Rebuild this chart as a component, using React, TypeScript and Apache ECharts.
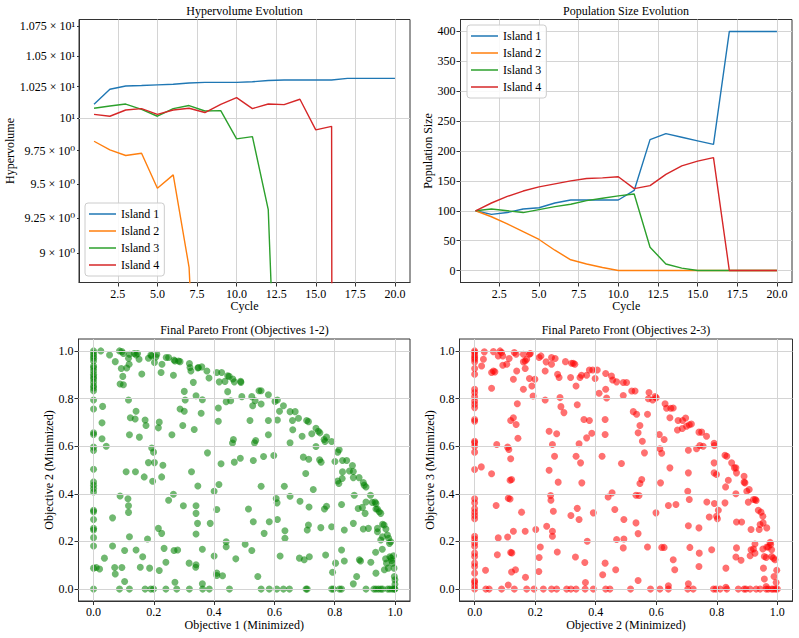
import React, { useEffect, useRef } from "react";
import * as echarts from "echarts";

// ---- data -----------------------------------------------------------------
const cycles = [1, 2, 3, 4, 5, 6, 7, 8, 9, 10, 11, 12, 13, 14, 15, 16, 17, 18, 19, 20];
const islandNames = ["Island 1", "Island 2", "Island 3", "Island 4"];
const islandColors = ["#1f77b4", "#ff7f0e", "#2ca02c", "#d62728"];

// hypervolume per island (0 = island extinct)
const hv1 = [10.11, 10.23, 10.256, 10.26, 10.265, 10.27, 10.28, 10.285, 10.285, 10.285, 10.29, 10.3, 10.304, 10.304, 10.304, 10.304, 10.317, 10.317, 10.317, 10.317];
const hv2 = [9.822, 9.756, 9.713, 9.73, 9.468, 9.567, 8.9, 6.9, 5.2, 0, 0, 0, 0, 0, 0, 0, 0, 0, 0, 0];
const hv3 = [10.079, 10.097, 10.112, 10.07, 10.016, 10.076, 10.1, 10.057, 10.06, 9.84, 9.858, 9.31, 6.7, 4.8, 0, 0, 0, 0, 0, 0];
const hv4 = [10.031, 10.016, 10.065, 10.076, 10.031, 10.065, 10.079, 10.045, 10.11, 10.163, 10.076, 10.112, 10.107, 10.15, 9.91, 9.937, 0, 0, 0, 0];

// population size per island
const pop1 = [100, 94, 97, 103, 105, 113, 118, 118, 118, 118, 134, 219, 229, 223, 217, 211, 400, 400, 400, 400];
const pop2 = [100, 90, 78, 65, 52, 34, 18, 11, 5, 0, 0, 0, 0, 0, 0, 0, 0, 0, 0, 0];
const pop3 = [100, 103, 100, 97, 102, 107, 111, 117, 121, 125, 128, 39, 11, 4, 0, 0, 0, 0, 0, 0];
const pop4 = [100, 113, 124, 133, 140, 145, 150, 154, 155, 157, 137, 142, 161, 175, 183, 189, 0, 0, 0, 0];

// tick labels
const cycleTicks = [2.5, 5, 7.5, 10, 12.5, 15, 17.5, 20];
const hvTickValues = [9, 9.25, 9.5, 9.75, 10, 10.25, 10.5, 10.75];
const hvTickLabels = ["9 × 10⁰", "9.25 × 10⁰", "9.5 × 10⁰", "9.75 × 10⁰", "10¹", "1.025 × 10¹", "1.05 × 10¹", "1.075 × 10¹"];
const hvMajorTicks = [10];
const popTicks = [0, 50, 100, 150, 200, 250, 300, 350, 400];
const unitTicks = [0, 0.2, 0.4, 0.6, 0.8, 1.0];

// final Pareto front, objective 1 vs objective 2
const front12: [number, number][] = [
  [0, 1.0], [0, 0.989], [0, 0.979], [0, 0.969], [0, 0.958], [0, 0.937], [0, 0.928], [0, 0.916], [0, 0.902], [0, 0.891],
  [0, 0.882], [0, 0.868], [0, 0.854], [0, 0.844], [0, 0.833], [0, 0.794], [0, 0.756], [0, 0.656], [0, 0.649], [0, 0.596],
  [0, 0.582], [0, 0.503], [0, 0.45], [0, 0.436], [0, 0.422], [0, 0.408], [0, 0.331], [0, 0.325], [0, 0.292], [0, 0.255],
  [0, 0.248], [0, 0.216], [0, 0.181], [0, 0.088], [0, 0],
  [0.024, 1.0], [0.053, 0.983], [0.072, 0.955], [0.086, 1.0], [0.094, 0.997], [0.099, 0.989], [0.092, 0.926], [0.097, 0.893],
  [0.088, 0.861], [0.099, 0.858], [0.11, 0.928], [0.118, 0.944], [0.119, 0.986], [0.116, 0.969], [0.135, 0.989], [0.141, 0.983],
  [0.146, 0.989], [0.151, 0.965], [0.16, 0.903], [0.182, 0.969], [0.19, 0.983], [0.193, 0.979], [0.202, 0.951], [0.207, 0.975],
  [0.21, 0.986], [0.227, 0.944], [0.224, 0.909], [0.241, 0.972], [0.249, 0.972], [0.267, 0.962], [0.27, 0.958], [0.282, 0.958],
  [0.287, 0.955], [0.265, 0.898], [0.318, 0.947], [0.32, 0.93], [0.323, 0.916], [0.331, 0.868], [0.346, 0.928], [0.348, 0.93],
  [0.359, 0.933], [0.376, 0.916], [0.383, 0.886], [0.409, 0.909], [0.425, 0.909], [0.417, 0.87], [0.436, 0.872], [0.445, 0.896],
  [0.45, 0.893], [0.462, 0.882], [0.467, 0.87], [0.488, 0.872], [0.489, 0.868],
  [0.03, 0.767], [0.116, 0.794], [0.34, 0.812], [0.361, 0.795], [0.445, 0.829], [0.44, 0.787], [0.455, 0.791], [0.492, 0.808],
  [0.525, 0.808], [0.528, 0.77], [0.536, 0.791], [0.549, 0.833], [0.556, 0.833], [0.556, 0.777], [0.58, 0.816], [0.602, 0.788],
  [0.61, 0.794], [0.63, 0.77], [0.301, 0.83], [0.304, 0.794], [0.287, 0.756], [0.301, 0.747],
  [0.028, 0.698], [0.028, 0.631], [0.042, 0.6], [0.122, 0.719], [0.138, 0.714], [0.141, 0.747], [0.119, 0.648], [0.152, 0.638],
  [0.171, 0.71], [0.174, 0.687], [0.218, 0.701], [0.215, 0.677], [0.296, 0.687], [0.26, 0.648], [0.334, 0.67], [0.357, 0.738],
  [0.414, 0.76], [0.414, 0.705], [0.464, 0.628], [0.461, 0.613], [0.519, 0.708], [0.538, 0.624], [0.534, 0.614], [0.58, 0.708],
  [0.58, 0.648], [0.61, 0.71], [0.617, 0.747], [0.652, 0.745], [0.669, 0.745], [0.66, 0.708], [0.661, 0.669], [0.652, 0.614],
  [0.68, 0.717], [0.692, 0.642], [0.707, 0.708], [0.713, 0.703], [0.724, 0.652], [0.738, 0.675], [0.746, 0.663], [0.751, 0.656],
  [0.738, 0.599], [0.765, 0.628], [0.768, 0.62], [0.773, 0.638], [0.79, 0.62],
  [0.193, 0.592], [0.199, 0.575], [0.182, 0.531], [0.202, 0.531], [0.23, 0.52], [0.108, 0.493], [0.139, 0.493], [0.168, 0.471],
  [0.196, 0.453], [0.226, 0.471], [0.378, 0.572], [0.346, 0.433], [0.325, 0.493], [0.4, 0.411], [0.416, 0.439], [0.423, 0.526],
  [0.467, 0.533], [0.487, 0.549], [0.53, 0.54], [0.564, 0.557], [0.598, 0.561], [0.556, 0.432], [0.606, 0.38], [0.609, 0.362],
  [0.633, 0.432], [0.696, 0.554], [0.714, 0.545], [0.704, 0.485], [0.729, 0.418], [0.75, 0.543], [0.755, 0.533], [0.801, 0.536],
  [0.81, 0.575], [0.815, 0.585], [0.81, 0.454], [0.814, 0.443], [0.826, 0.54], [0.84, 0.54], [0.826, 0.492], [0.825, 0.464],
  [0.849, 0.496], [0.862, 0.494], [0.859, 0.519], [0.862, 0.468], [0.881, 0.468], [0.895, 0.447], [0.898, 0.436], [0.904, 0.429],
  [0.865, 0.394],
  [0.088, 0.391], [0.114, 0.379], [0.116, 0.35], [0.116, 0.322], [0.063, 0.299], [0.119, 0.22], [0.215, 0.255], [0.226, 0.234],
  [0.249, 0.373], [0.265, 0.398], [0.298, 0.35], [0.34, 0.35], [0.34, 0.318], [0.345, 0.276], [0.34, 0.231], [0.387, 0.276],
  [0.409, 0.334], [0.44, 0.199], [0.44, 0.178], [0.514, 0.336], [0.53, 0.283], [0.566, 0.234], [0.583, 0.283], [0.61, 0.292],
  [0.635, 0.245], [0.635, 0.213], [0.652, 0.39], [0.685, 0.369], [0.715, 0.345], [0.713, 0.269], [0.709, 0.248], [0.754, 0.258],
  [0.766, 0.336], [0.773, 0.348], [0.79, 0.262], [0.823, 0.355], [0.832, 0.248], [0.862, 0.276], [0.878, 0.338], [0.892, 0.343],
  [0.901, 0.318], [0.904, 0.366], [0.895, 0.252], [0.912, 0.255], [0.919, 0.394], [0.925, 0.364], [0.934, 0.366], [0.937, 0.336],
  [0.942, 0.336], [0.948, 0.325], [0.953, 0.318], [0.937, 0.359], [0.942, 0.255], [0.942, 0.241], [0.959, 0.272], [0.964, 0.269],
  [0.97, 0.252], [0.975, 0.227], [0.979, 0.213], [0.986, 0.199], [0.982, 0.192], [0.953, 0.206], [0.959, 0.22],
  [0.009, 0.091], [0.02, 0.084], [0.036, 0.13], [0.063, 0.181], [0.07, 0.091], [0.072, 0.063], [0.094, 0.091], [0.103, 0.162],
  [0.103, 0.032], [0.141, 0.164], [0.155, 0.092], [0.163, 0.136], [0.179, 0.21], [0.186, 0.088], [0.218, 0.078], [0.234, 0.171],
  [0.24, 0.113], [0.267, 0.162], [0.279, 0.164], [0.27, 0.029], [0.317, 0.109], [0.34, 0.102], [0.339, 0.092], [0.361, 0.167],
  [0.361, 0.022], [0.4, 0.139], [0.409, 0.067], [0.409, 0.057], [0.428, 0.056], [0.472, 0.127], [0.503, 0.188], [0.525, 0.162],
  [0.545, 0.053], [0.619, 0.139], [0.683, 0.13], [0.699, 0.123], [0.716, 0.136], [0.77, 0.143], [0.793, 0.071], [0.803, 0.109],
  [0.823, 0.164], [0.832, 0.118], [0.862, 0.022], [0.873, 0.053], [0.882, 0.123], [0.886, 0.118], [0.92, 0.113], [0.936, 0.155],
  [0.937, 0.067], [0.958, 0.167], [0.969, 0.127], [0.972, 0.109], [0.978, 0.088], [0.983, 0.136], [0.987, 0.13], [0.989, 0.12],
  [0.992, 0.109], [0.997, 0.088], [0.998, 0.053], [1.0, 0.039], [0.965, 0.081], [0.995, 0.14], [1.0, 0.02],
  [0.086, 0], [0.119, 0], [0.171, 0], [0.19, 0], [0.199, 0], [0.24, 0], [0.276, 0], [0.318, 0], [0.362, 0], [0.384, 0],
  [0.451, 0], [0.556, 0], [0.583, 0], [0.608, 0], [0.63, 0], [0.65, 0], [0.705, 0], [0.709, 0], [0.79, 0], [0.796, 0],
  [0.816, 0], [0.823, 0], [0.904, 0], [0.93, 0], [0.937, 0], [0.945, 0], [0.953, 0], [0.959, 0], [0.976, 0], [0.983, 0],
  [0.991, 0], [0.998, 0], [1.0, 0],
];

// final Pareto front, objective 2 vs objective 3
const front23: [number, number][] = [
  [0, 1.0], [0, 0.993], [0, 0.982], [0, 0.972], [0, 0.965], [0, 0.954], [0, 0.926], [0, 0.902], [0, 0.839], [0, 0.825],
  [0, 0.808], [0, 0.79], [0, 0.776], [0, 0.762], [0, 0.712], [0, 0.705], [0, 0.621], [0, 0.614], [0, 0.6], [0, 0.575],
  [0, 0.502], [0, 0.379], [0, 0.362], [0, 0.337], [0, 0.323], [0, 0.309], [0, 0.295], [0, 0.222], [0, 0.21], [0, 0.194],
  [0, 0.18], [0, 0.151], [0, 0.137], [0, 0.109], [0, 0.095], [0, 0.067], [0, 0.035], [0, 0.028], [0, 0.014], [0, 0],
  [0.032, 0.996], [0.029, 0.965], [0.023, 0.937], [0.062, 0.997], [0.078, 0.979], [0.084, 1.0], [0.089, 0.993], [0.093, 0.979],
  [0.056, 0.909], [0.062, 0.916], [0.067, 0.912], [0.093, 0.94], [0.106, 0.944], [0.114, 0.968], [0.131, 0.993], [0.137, 0.986],
  [0.161, 0.986], [0.181, 0.986], [0.184, 0.989], [0.139, 0.916], [0.128, 0.881], [0.161, 0.954], [0.167, 0.958], [0.172, 0.965],
  [0.167, 0.926], [0.181, 0.884], [0.189, 0.853], [0.161, 0.839], [0.193, 0.811], [0.199, 0.881], [0.213, 0.972], [0.219, 0.979],
  [0.236, 0.954], [0.254, 0.972], [0.266, 0.968], [0.233, 0.916], [0.254, 0.944], [0.274, 0.902], [0.279, 0.888], [0.3, 0.955],
  [0.32, 0.948], [0.326, 0.948], [0.331, 0.944], [0.317, 0.888], [0.348, 0.888], [0.353, 0.898], [0.335, 0.853], [0.37, 0.898],
  [0.379, 0.92], [0.39, 0.92], [0.405, 0.92], [0.398, 0.884], [0.433, 0.905], [0.452, 0.895], [0.456, 0.878], [0.469, 0.87],
  [0.491, 0.867], [0.502, 0.867], [0.411, 0.822], [0.433, 0.839], [0.436, 0.802], [0.491, 0.813], [0.519, 0.832], [0.53, 0.832],
  [0.576, 0.825], [0.574, 0.799], [0.588, 0.794], [0.596, 0.808], [0.6, 0.803], [0.629, 0.778], [0.634, 0.759], [0.648, 0.759],
  [0.656, 0.76], [0.645, 0.719], [0.672, 0.708], [0.687, 0.708], [0.697, 0.718], [0.67, 0.668], [0.686, 0.674], [0.7, 0.684],
  [0.709, 0.69], [0.716, 0.693], [0.741, 0.659], [0.75, 0.659], [0.766, 0.642], [0.791, 0.612], [0.792, 0.603], [0.744, 0.603],
  [0.733, 0.589], [0.755, 0.6], [0.827, 0.562], [0.833, 0.558], [0.849, 0.53], [0.858, 0.509], [0.863, 0.509], [0.865, 0.488],
  [0.89, 0.474], [0.89, 0.449], [0.893, 0.446], [0.907, 0.418], [0.899, 0.411], [0.921, 0.376], [0.93, 0.372], [0.927, 0.376],
  [0.937, 0.331], [0.946, 0.323], [0.952, 0.306], [0.943, 0.271], [0.94, 0.25], [0.953, 0.278], [0.965, 0.257], [0.913, 0.25],
  [0.976, 0.196], [0.978, 0.187], [0.965, 0.177], [0.97, 0.177], [0.952, 0.168], [0.957, 0.137], [0.963, 0.133], [0.981, 0.137],
  [0.987, 0.13], [0.992, 0.123], [0.998, 0.079], [0.996, 0.028], [0.989, 0.053], [0.981, 0.165],
  [0.128, 0.719], [0.119, 0.708], [0.137, 0.691], [0.141, 0.778], [0.056, 0.843], [0.073, 0.607], [0.109, 0.596], [0.113, 0.586],
  [0.119, 0.547], [0.143, 0.633], [0.117, 0.457], [0.122, 0.46], [0.022, 0.513], [0.056, 0.484], [0.071, 0.351], [0.111, 0.381],
  [0.117, 0.378], [0.155, 0.323], [0.167, 0.243], [0.128, 0.243], [0.078, 0.215], [0.109, 0.219], [0.075, 0.144], [0.119, 0.154],
  [0.123, 0.152], [0.122, 0.072], [0.135, 0.081], [0.036, 0.079], [0.111, 0.017], [0.168, 0.05], [0.202, 0.25], [0.217, 0.177],
  [0.213, 0.133], [0.212, 0.074], [0.233, 0.794], [0.246, 0.663], [0.257, 0.607], [0.264, 0.558], [0.271, 0.652], [0.246, 0.499],
  [0.276, 0.449], [0.251, 0.393], [0.252, 0.373], [0.26, 0.327], [0.238, 0.264], [0.257, 0.243], [0.257, 0.222], [0.273, 0.156],
  [0.282, 0.804], [0.285, 0.766], [0.295, 0.741], [0.339, 0.774], [0.335, 0.558], [0.35, 0.53], [0.361, 0.712], [0.379, 0.708],
  [0.37, 0.635], [0.387, 0.654], [0.345, 0.61], [0.354, 0.446], [0.318, 0.309], [0.339, 0.339], [0.345, 0.292], [0.372, 0.201],
  [0.333, 0.135], [0.364, 0.112], [0.366, 0.028], [0.392, 0.32], [0.423, 0.06], [0.431, 0.109], [0.466, 0.081], [0.431, 0.712],
  [0.431, 0.649], [0.421, 0.558], [0.441, 0.387], [0.454, 0.404], [0.469, 0.208], [0.463, 0.334], [0.485, 0.527], [0.493, 0.292],
  [0.493, 0.21], [0.491, 0.173], [0.533, 0.278], [0.54, 0.233], [0.524, 0.745], [0.535, 0.734], [0.54, 0.656], [0.546, 0.687],
  [0.554, 0.621], [0.561, 0.572], [0.546, 0.443], [0.552, 0.46], [0.533, 0.394], [0.543, 0.393], [0.571, 0.734], [0.571, 0.177],
  [0.54, 0.036], [0.599, 0.32], [0.61, 0.649], [0.626, 0.628], [0.612, 0.589], [0.618, 0.57], [0.645, 0.509], [0.614, 0.446],
  [0.64, 0.351], [0.665, 0.355], [0.618, 0.175], [0.626, 0.175], [0.656, 0.123], [0.661, 0.081], [0.64, 0.014], [0.706, 0.583],
  [0.706, 0.488], [0.704, 0.411], [0.709, 0.376], [0.706, 0.266], [0.711, 0.175], [0.706, 0.022], [0.741, 0.257], [0.742, 0.151],
  [0.741, 0.095], [0.767, 0.366], [0.775, 0.303], [0.783, 0.165], [0.791, 0.53], [0.791, 0.488], [0.799, 0.481], [0.799, 0.306],
  [0.802, 0.295], [0.805, 0.331], [0.792, 0.359], [0.827, 0.362], [0.838, 0.457], [0.829, 0.429], [0.863, 0.4], [0.865, 0.282],
  [0.882, 0.282], [0.865, 0.173], [0.863, 0.135], [0.88, 0.121], [0.83, 0.088], [0.83, 0.008], [0.904, 0.365], [0.913, 0.165],
  [0.921, 0.168], [0.926, 0.189], [0.926, 0.151], [0.91, 0.14], [0.954, 0.088], [0.957, 0.042], [0.963, 0.011],
  [0.037, 0], [0.048, 0], [0.089, 0], [0.131, 0], [0.172, 0], [0.196, 0], [0.227, 0], [0.254, 0], [0.271, 0], [0.304, 0],
  [0.318, 0], [0.335, 0], [0.365, 0], [0.392, 0], [0.433, 0], [0.447, 0], [0.515, 0], [0.581, 0], [0.612, 0], [0.64, 0],
  [0.704, 0], [0.722, 0], [0.789, 0], [0.797, 0], [0.811, 0], [0.833, 0], [0.871, 0], [0.89, 0], [0.896, 0], [0.91, 0],
  [0.93, 0], [0.943, 0], [0.963, 0], [0.97, 0], [0.981, 0], [0.987, 0], [0.994, 0], [1.0, 0],
];

// ---- styling helpers ------------------------------------------------------
const FONT = "'Liberation Serif', 'Times New Roman', 'DejaVu Serif', serif";
const GRID_LINE = "#d4d4d4";
const SPINE = "#333";

const logOrFloor = (v: number) => (v > 0 ? Math.log10(v) : -3);

const baseText = { fontFamily: FONT, fontSize: 12, color: "#000" };

function valueAxis(gridIndex: number, min: number, max: number, ticks: number[], fmt: (v: number) => string, extra: any = {}) {
  return {
    type: "value",
    gridIndex,
    min,
    max,
    axisLine: { show: true, onZero: false, lineStyle: { color: SPINE, width: 1 } },
    axisTick: { show: true, length: 4, customValues: ticks, lineStyle: { color: SPINE } },
    axisLabel: { customValues: ticks, formatter: fmt, margin: 5, ...baseText },
    splitLine: { show: false },
    nameLocation: "middle",
    nameTextStyle: { ...baseText },
    ...extra,
  };
}

// grid lines at the tick positions of one panel
function gridLines(xs: number[], ys: number[], z: number) {
  return {
    silent: true,
    symbol: "none",
    label: { show: false },
    emphasis: { disabled: true },
    lineStyle: { color: GRID_LINE, type: "solid", width: 1 },
    data: [...xs.map((v) => ({ xAxis: v })), ...ys.map((v) => ({ yAxis: v }))],
    z,
  };
}

export default function App() {
  const ref = useRef<HTMLDivElement>(null);

  useEffect(() => {
    if (!ref.current) return;
    const chart = echarts.init(ref.current, undefined, { renderer: "svg" });

    const hvSeries = [hv1, hv2, hv3, hv4];
    const popSeries = [pop1, pop2, pop3, pop4];

    const hvLogTicks = hvTickValues.map((v) => Math.log10(v));
    const hvFormatter = (v: number) => {
      const i = hvLogTicks.findIndex((t) => Math.abs(t - v) < 1e-9);
      return i >= 0 ? hvTickLabels[i] : "";
    };

    const legendBase = {
      orient: "vertical",
      icon: "rect",
      itemWidth: 27,
      itemHeight: 1.5,
      itemGap: 3,
      padding: [4, 5, 4, 4],
      backgroundColor: "rgba(255,255,255,0.85)",
      borderColor: "#cccccc",
      borderWidth: 1,
      borderRadius: 3,
      textStyle: { ...baseText, lineHeight: 14 },
      data: islandNames,
      selectedMode: false,
    };

    const titleText = (text: string, x: number, y: number) => ({
      type: "text",
      x,
      y,
      silent: true,
      style: { text, fontFamily: FONT, fontSize: 12, fill: "#000", align: "center", verticalAlign: "middle" },
    });

    const gridBox = { show: true, borderColor: SPINE, borderWidth: 1, backgroundColor: "transparent" };

    chart.setOption({
      animation: false,
      backgroundColor: "#fff",
      textStyle: { fontFamily: FONT },
      grid: [
        { left: 79, top: 19.5, width: 331, height: 263, ...gridBox },
        { left: 460.5, top: 19.5, width: 331.5, height: 263, ...gridBox },
        { left: 78.5, top: 339, width: 331.5, height: 262, ...gridBox },
        { left: 459.5, top: 339, width: 333, height: 262, ...gridBox },
      ],
      xAxis: [
        valueAxis(0, 0.05, 20.95, cycleTicks, (v) => v.toFixed(1), { name: "Cycle", nameGap: 17 }),
        valueAxis(1, 0.05, 20.95, cycleTicks, (v) => v.toFixed(1), { name: "Cycle", nameGap: 17 }),
        valueAxis(2, -0.05, 1.05, unitTicks, (v) => v.toFixed(1), { name: "Objective 1 (Minimized)", nameGap: 18 }),
        valueAxis(3, -0.05, 1.05, unitTicks, (v) => v.toFixed(1), { name: "Objective 2 (Minimized)", nameGap: 18 }),
      ],
      yAxis: [
        valueAxis(0, Math.log10(8.795), Math.log10(10.803), hvLogTicks, hvFormatter, {
          name: "Hypervolume",
          nameGap: 62,
          axisTick: { show: true, length: 2, customValues: hvLogTicks, lineStyle: { color: SPINE } },
          axisLabel: { customValues: hvLogTicks, formatter: hvFormatter, margin: 4, ...baseText },
        }),
        valueAxis(1, -20, 420, popTicks, (v) => String(v), { name: "Population Size", nameGap: 27 }),
        valueAxis(2, -0.05, 1.05, unitTicks, (v) => v.toFixed(1), { name: "Objective 2 (Minimized)", nameGap: 23 }),
        valueAxis(3, -0.05, 1.05, unitTicks, (v) => v.toFixed(1), { name: "Objective 3 (Minimized)", nameGap: 23 }),
      ],
      legend: [
        { ...legendBase, left: 85, top: 203 },
        { ...legendBase, left: 467, top: 25 },
      ],
      graphic: [
        titleText("Hypervolume Evolution", 244.5, 11),
        titleText("Population Size Evolution", 626, 11),
        titleText("Final Pareto Front (Objectives 1-2)", 244.5, 330),
        titleText("Final Pareto Front (Objectives 2-3)", 626, 330),
      ],
      series: [
        ...hvSeries.map((vals, i) => ({
          type: "line",
          name: islandNames[i],
          xAxisIndex: 0,
          yAxisIndex: 0,
          data: cycles.map((c, k) => [c, logOrFloor(vals[k])]),
          symbol: "none",
          clip: true,
          lineStyle: { color: islandColors[i], width: 1.4 },
          itemStyle: { color: islandColors[i] },
          z: 3,
          ...(i === 0 ? { markLine: gridLines(cycleTicks, hvMajorTicks.map((v) => Math.log10(v)), 1) } : {}),
        })),
        ...popSeries.map((vals, i) => ({
          type: "line",
          name: islandNames[i],
          xAxisIndex: 1,
          yAxisIndex: 1,
          data: cycles.map((c, k) => [c, vals[k]]),
          symbol: "none",
          clip: true,
          lineStyle: { color: islandColors[i], width: 1.4 },
          itemStyle: { color: islandColors[i] },
          z: 3,
          ...(i === 0 ? { markLine: gridLines(cycleTicks, popTicks, 1) } : {}),
        })),
        {
          type: "scatter",
          name: "front12",
          xAxisIndex: 2,
          yAxisIndex: 2,
          data: front12,
          symbolSize: 7,
          itemStyle: { color: "rgba(0,128,0,0.7)" },
          markLine: gridLines(unitTicks, unitTicks, 3),
        },
        {
          type: "scatter",
          name: "front23",
          xAxisIndex: 3,
          yAxisIndex: 3,
          data: front23,
          symbolSize: 7,
          itemStyle: { color: "rgba(255,0,0,0.7)" },
          markLine: gridLines(unitTicks, unitTicks, 3),
        },
      ],
    });

    return () => chart.dispose();
  }, []);

  return (
    <div
      ref={ref}
      style={{ position: "absolute", left: 0, top: 0, width: 799, height: 638, background: "#fff" }}
    />
  );
}
